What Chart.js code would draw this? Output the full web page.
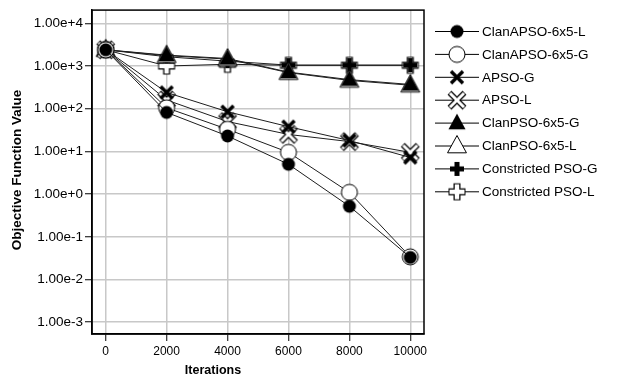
<!DOCTYPE html>
<html>
<head>
<meta charset="utf-8">
<script src="https://cdn.jsdelivr.net/npm/chart.js@4/dist/chart.umd.min.js"></script>
<style>
  html, body { margin: 0; padding: 0; background: #fff; }
  #wrap { width: 629px; height: 383px; }
</style>
</head>
<body>
<div id="wrap"><canvas id="c" width="629" height="383"></canvas></div>
<script>
const ITERATIONS = [0, 2000, 4000, 6000, 8000, 10000];
const X_TICKS = [0, 2000, 4000, 6000, 8000, 10000];
const Y_TICKS = [1e-3, 1e-2, 1e-1, 1e0, 1e1, 1e2, 1e3, 1e4];

const CLANAPSO_L = [2400, 82, 23, 5.0, 0.52, 0.033];
const CLANAPSO_G = [2400, 105, 33, 9.5, 1.1, 0.034];
const APSO_G     = [2400, 240, 85, 38, 18, 7.2];
const APSO_L     = [2400, 160, 50, 25, 17, 9.5];
const CLANPSO_G  = [2400, 1800, 1500, 720, 480, 370];
const CLANPSO_L  = [2400, 1750, 1450, 700, 460, 355];
const CPSO_G     = [2400, 1650, 1300, 1050, 1050, 1050];
const CPSO_L     = [2400, 1000, 1100, 1040, 1040, 1040];

const FONT = "'Liberation Sans', Arial, sans-serif";

// little canvases used as point styles (and reused by the legend)
function marker(kind) {
  const c = document.createElement('canvas');
  c.width = 26; c.height = 26;
  const g = c.getContext('2d');
  const m = 13;
  g.lineCap = 'butt';
  const cross = (h, rot) => {
    g.beginPath();
    if (rot) {
      g.moveTo(m - h, m - h); g.lineTo(m + h, m + h);
      g.moveTo(m + h, m - h); g.lineTo(m - h, m + h);
    } else {
      g.moveTo(m - h, m); g.lineTo(m + h, m);
      g.moveTo(m, m - h); g.lineTo(m, m + h);
    }
    g.stroke();
  };
  const tri = (r) => {
    g.beginPath();
    g.moveTo(m, m - r);
    g.lineTo(m + r * 0.9, m + r * 0.65);
    g.lineTo(m - r * 0.9, m + r * 0.65);
    g.closePath();
  };
  switch (kind) {
    case 'dot':
      g.fillStyle = '#000';
      g.beginPath(); g.arc(m, m, 6.5, 0, Math.PI * 2); g.fill();
      break;
    case 'ring':
      g.fillStyle = '#fff'; g.strokeStyle = '#000'; g.lineWidth = 1;
      g.beginPath(); g.arc(m, m, 8, 0, Math.PI * 2); g.fill(); g.stroke();
      break;
    case 'xBold':
      g.strokeStyle = '#000'; g.lineWidth = 3.5;
      cross(6, true);
      break;
    case 'xOpen':
      g.strokeStyle = '#000'; g.lineWidth = 5.5; cross(7.5, true);
      g.strokeStyle = '#fff'; g.lineWidth = 3;   cross(7, true);
      break;
    case 'triFill':
      g.fillStyle = '#000'; tri(9.5); g.fill();
      break;
    case 'triOpen':
      g.fillStyle = '#fff'; g.strokeStyle = '#000'; g.lineWidth = 1;
      tri(10.5); g.fill(); g.stroke();
      break;
    case 'plusFill':
      g.strokeStyle = '#000'; g.lineWidth = 5; cross(7, false);
      break;
    case 'plusOpen':
      g.strokeStyle = '#000'; g.lineWidth = 7; cross(8.5, false);
      g.strokeStyle = '#fff'; g.lineWidth = 4.5; cross(7.5, false);
      break;
  }
  return c;
}

const SERIES = [
  ['ClanAPSO-6x5-L',    CLANAPSO_L, 'dot'],
  ['ClanAPSO-6x5-G',    CLANAPSO_G, 'ring'],
  ['APSO-G',            APSO_G,     'xBold'],
  ['APSO-L',            APSO_L,     'xOpen'],
  ['ClanPSO-6x5-G',     CLANPSO_G,  'triFill'],
  ['ClanPSO-6x5-L',     CLANPSO_L,  'triOpen'],
  ['Constricted PSO-G', CPSO_G,     'plusFill'],
  ['Constricted PSO-L', CPSO_L,     'plusOpen'],
];

const datasets = SERIES.map(([label, vals, kind]) => ({
  label,
  data: ITERATIONS.map((x, i) => ({ x, y: vals[i] })),
  pointStyle: marker(kind),
  borderColor: '#1e1e1e',
  borderWidth: 1,
  pointRadius: 7,
  tension: 0,
  fill: false,
}));

const frameAndText = {
  id: 'frameAndText',
  beforeDatasetsDraw(chart) {
    const { ctx, chartArea: a } = chart;
    ctx.save();
    ctx.strokeStyle = '#000';
    ctx.lineWidth = 1.5;
    ctx.strokeRect(a.left, a.top, a.right - a.left, a.bottom - a.top);
    ctx.restore();
  },
  afterDraw(chart) {
    const { ctx } = chart;
    ctx.save();
    ctx.fillStyle = '#000';
    ctx.textAlign = 'center';
    ctx.textBaseline = 'middle';
    ctx.font = `bold 12.5px ${FONT}`;
    ctx.fillText('Iterations', 213, 371);
    ctx.font = `bold 13.5px ${FONT}`;
    ctx.translate(17, 170);
    ctx.rotate(-Math.PI / 2);
    ctx.fillText('Objective Function Value', 0, 0);
    ctx.restore();

    // legend: line with marker, then label
    ctx.save();
    ctx.font = `13.5px ${FONT}`;
    ctx.textBaseline = 'middle';
    ctx.textAlign = 'left';
    chart.data.datasets.forEach((ds, i) => {
      const y = 31.5 + i * 22.9;
      ctx.strokeStyle = '#000';
      ctx.lineWidth = 1;
      ctx.beginPath();
      ctx.moveTo(435, y); ctx.lineTo(479, y);
      ctx.stroke();
      ctx.drawImage(ds.pointStyle, 457 - 13, y - 13);
      ctx.fillStyle = '#000';
      ctx.fillText(ds.label, 482, y + 0.5);
    });
    ctx.restore();
  }
};

new Chart(document.getElementById('c'), {
  type: 'line',
  data: { datasets },
  options: {
    responsive: false,
    animation: false,
    layout: { padding: { left: 0, top: 4, right: 205, bottom: 0 } },
    plugins: { legend: { display: false }, tooltip: { enabled: false } },
    scales: {
      x: {
        type: 'linear',
        min: -450,
        max: 10450,
        afterBuildTicks: s => { s.ticks = X_TICKS.map(v => ({ value: v })); },
        afterFit: s => { s.height = 49; },
        grid: { color: '#c8c8c8', lineWidth: 1.5, tickColor: '#000', tickLength: 7, tickWidth: 1 },
        border: { display: true, color: '#000', width: 1.5 },
        ticks: {
          color: '#000',
          font: { family: FONT, size: 12 },
          padding: 3,
          maxRotation: 0,
          callback: v => String(v),
        },
      },
      y: {
        type: 'logarithmic',
        min: 5.3e-4,
        max: 2.04e4,
        afterBuildTicks: s => { s.ticks = Y_TICKS.map(v => ({ value: v })); },
        afterFit: s => { s.width = 92; },
        grid: { color: '#c8c8c8', lineWidth: 1.5, tickColor: '#000', tickLength: 7, tickWidth: 1 },
        border: { display: true, color: '#000', width: 1.5 },
        ticks: {
          color: '#000',
          font: { family: FONT, size: 13.5 },
          padding: 2,
          callback: v => Number(v).toExponential(2),
        },
      },
    },
  },
  plugins: [frameAndText],
});
</script>
</body>
</html>
